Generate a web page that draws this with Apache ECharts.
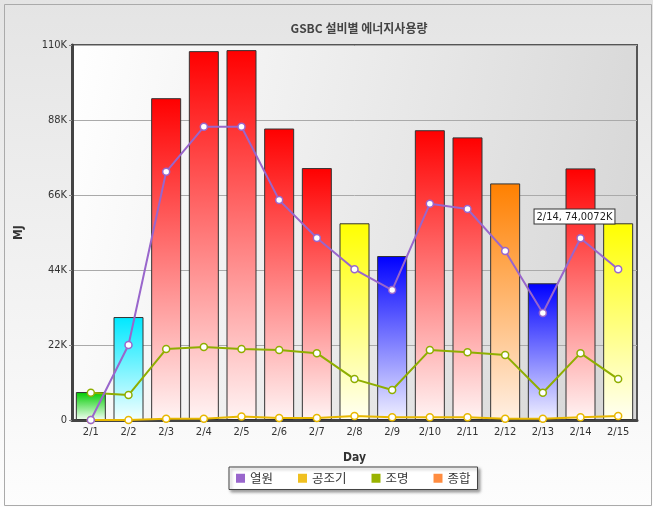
<!DOCTYPE html>
<html><head><meta charset="utf-8">
<script src="https://cdn.jsdelivr.net/npm/echarts@6/dist/echarts.min.js"></script>
<style>html,body{margin:0;padding:0;background:#fff}#c{width:653px;height:507px}</style>
</head><body><div id="c"></div>
<script>
const days = ['2/1','2/2','2/3','2/4','2/5','2/6','2/7','2/8','2/9','2/10','2/11','2/12','2/13','2/14','2/15'];
const totalVals = [8200, 30200, 94400, 108200, 108500, 85500, 73900, 57700, 48100, 85000, 82900, 69400, 40100, 73800, 57700];
const heatVals = [0, 22000, 72800, 86000, 86000, 64500, 53400, 44200, 38100, 63400, 61900, 49600, 31400, 53300, 44200];
const airVals = [0, 0, 400, 400, 1000, 600, 600, 1200, 800, 800, 800, 400, 400, 800, 1200];
const lightVals = [8000, 7300, 20800, 21400, 20800, 20500, 19600, 12000, 8800, 20500, 19900, 19100, 8000, 19600, 12000];
const yTicks = [0, 22000, 44000, 66000, 88000, 110000];
const seriesNames = ['열원', '공조기', '조명', '종합'];
const seriesColors = ['#9966cc', '#f0c020', '#99b300', '#ff8c40'];
const calloutIndex = 13;
const calloutText = '2/14, 74,0072K';

function grad(top, bottom) {
  return new echarts.graphic.LinearGradient(0, 0, 0, 1, [{offset: 0, color: top}, {offset: 1, color: bottom}]);
}
function barColor(v) {
  if (v < 10000) return grad('#00cc00', '#f4fff4');
  if (v < 40000) return grad('#00e8ff', '#f4ffff');
  if (v < 50000) return grad('#0000ff', '#f0f0ff');
  if (v < 60000) return grad('#ffff00', '#fffff4');
  if (v < 70000) return grad('#ff8000', '#fff0e4');
  return grad('#ff0000', '#fff4f4');
}
const barData = totalVals.map((v, i) => {
  const d = {value: v, itemStyle: {color: barColor(v)}};
  if (i === calloutIndex) {
    d.label = {
      show: true, position: 'insideTop', offset: [-6, 36], formatter: calloutText,
      color: '#222', fontSize: 11, fontFamily: 'DejaVu Sans Condensed, DejaVu Sans',
      backgroundColor: '#fff', borderColor: '#333', borderWidth: 1, padding: [2, 2, 1, 2]
    };
  }
  return d;
});

const font = 'DejaVu Sans Condensed, "DejaVu Sans", sans-serif';
const chart = echarts.init(document.getElementById('c'), null, {renderer: 'canvas'});
function lineSeries(name, data, color, z) {
  return {
    name, type: 'line', data, z,
    symbol: 'circle', symbolSize: 7, showSymbol: true,
    lineStyle: {color, width: 2},
    itemStyle: {color: '#ffffff', borderColor: color, borderWidth: 1.5},
    emphasis: {disabled: true}
  };
}
chart.setOption({
  animation: false,
  backgroundColor: new echarts.graphic.LinearGradient(0, 0, 0, 1, [{offset: 0, color: '#e4e4e4'}, {offset: 1, color: '#fdfdfd'}]),
  title: {
    text: 'GSBC 설비별 에너지사용량', left: 354, top: 17, textAlign: 'center',
    textStyle: {fontSize: 12, fontWeight: 'bold', color: '#444', fontFamily: '"Noto Sans CJK KR", sans-serif'}
  },
  legend: {
    data: seriesNames.map((n, i) => ({name: n, icon: 'rect', itemStyle: {color: seriesColors[i], borderWidth: 0}})),
    left: 229, top: 467, width: 250,
    itemWidth: 9, itemHeight: 9, itemGap: 25,
    padding: [5, 7, 5, 7],
    backgroundColor: '#ffffff', borderColor: '#444', borderWidth: 1,
    shadowColor: 'rgba(0,0,0,0.35)', shadowBlur: 3, shadowOffsetX: 2, shadowOffsetY: 2,
    textStyle: {fontSize: 12.5, color: '#333', fontFamily: '"Noto Sans CJK KR", sans-serif'},
    selectedMode: false
  },
  grid: {
    left: 72, right: 16, top: 45, bottom: 87, show: true,
    borderColor: '#555', borderWidth: 2,
    backgroundColor: new echarts.graphic.LinearGradient(0, 0, 1, 0.3, [{offset: 0, color: '#ffffff'}, {offset: 1, color: '#d8d8d8'}])
  },
  xAxis: {
    type: 'category', data: days,
    name: 'Day', nameLocation: 'middle', nameGap: 32,
    nameTextStyle: {fontSize: 12, fontWeight: 'bold', color: '#333', fontFamily: font},
    axisLine: {lineStyle: {color: '#444', width: 3}},
    axisTick: {show: false},
    axisLabel: {fontSize: 11, color: '#333', fontFamily: font, margin: 7}
  },
  yAxis: {
    type: 'value', min: yTicks[0], max: yTicks[yTicks.length - 1], interval: yTicks[1] - yTicks[0],
    name: 'MJ', nameLocation: 'middle', nameGap: 47,
    nameTextStyle: {fontSize: 12, fontWeight: 'bold', color: '#333', fontFamily: font},
    axisLine: {show: true, lineStyle: {color: '#444', width: 3}},
    axisTick: {show: true, length: 3, lineStyle: {color: '#888'}},
    splitLine: {lineStyle: {color: '#aaa', width: 1}},
    axisLabel: {fontSize: 11, color: '#333', fontFamily: font, margin: 5,
      formatter: v => v === 0 ? '0' : (v / 1000) + 'K'}
  },
  series: [
    {
      name: '종합', type: 'bar', data: barData, barWidth: 30, z: 1,
      itemStyle: {color: seriesColors[3], borderColor: '#333', borderWidth: 1},
      emphasis: {disabled: true}
    },
    lineSeries('공조기', airVals, '#e8b800', 3),
    lineSeries('조명', lightVals, '#8fae00', 4),
    lineSeries('열원', heatVals, '#9966cc', 5)
  ],
  graphic: [{
    type: 'rect', left: 2, top: 2, shape: {width: 647, height: 501},
    style: {fill: 'none', stroke: '#aaa', lineWidth: 1}, silent: true
  }]
});
</script></body></html>
